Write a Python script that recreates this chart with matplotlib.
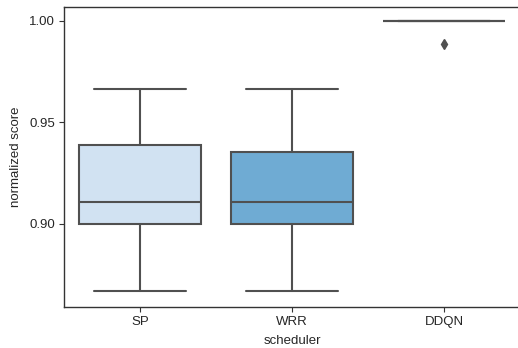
import matplotlib
matplotlib.use('Agg')
import matplotlib.pyplot as plt
import seaborn as sns

sns.set_style('ticks')
plt.rcParams['font.family'] = ['Liberation Sans', 'DejaVu Sans']

# box statistics
schedulers = ['SP', 'WRR', 'DDQN']
whis_low = [0.8667, 0.8667, 1.0]
q1 = [0.9, 0.9, 1.0]
median = [0.9108, 0.9108, 1.0]
q3 = [0.9387, 0.9355, 1.0]
whis_high = [0.9667, 0.9667, 1.0]
outliers = [[], [], [0.9885]]

fill_colors = ['#d1e2f2', '#6fabd3', '#3a7cb8']
line_color = '#505050'

stats = []
for i, name in enumerate(schedulers):
    stats.append(dict(label=name, whislo=whis_low[i], q1=q1[i], med=median[i],
                      q3=q3[i], whishi=whis_high[i], fliers=outliers[i]))

fig = plt.figure(figsize=(5.18, 3.48), dpi=100)
ax = fig.add_axes([64 / 518, 41 / 348, 456 / 518, 300 / 348])

bp = ax.bxp(stats, positions=range(len(schedulers)), widths=0.8, patch_artist=True,
            boxprops=dict(edgecolor=line_color, linewidth=1.5),
            medianprops=dict(color=line_color, linewidth=1.5),
            whiskerprops=dict(color=line_color, linewidth=1.5),
            capprops=dict(color=line_color, linewidth=1.5),
            flierprops=dict(marker='d', markerfacecolor=line_color,
                            markeredgecolor=line_color, markersize=5))
for patch, c in zip(bp['boxes'], fill_colors):
    patch.set_facecolor(c)

# caps as wide as seaborn draws them
for cap in bp['caps']:
    x = cap.get_xdata()
    mid = (x[0] + x[1]) / 2
    cap.set_xdata([mid - 0.3, mid + 0.3])

ax.set_xlim(-0.5, 2.5)
ax.set_ylim(0.859, 1.0069)
ax.set_yticks([0.90, 0.95, 1.00])
ax.set_yticklabels(['0.90', '0.95', '1.00'])
ax.set_xticks(range(len(schedulers)))
ax.set_xticklabels(schedulers)
ax.tick_params(labelsize=9.5, length=3.5, color='#333333', pad=3)
ax.set_xlabel('scheduler', fontsize=9.5, labelpad=5)
ax.set_ylabel('normalized score', fontsize=9.5, labelpad=5)
for s in ax.spines.values():
    s.set_color('#333333')
    s.set_linewidth(1.0)

fig.savefig('out.png', dpi=100)
